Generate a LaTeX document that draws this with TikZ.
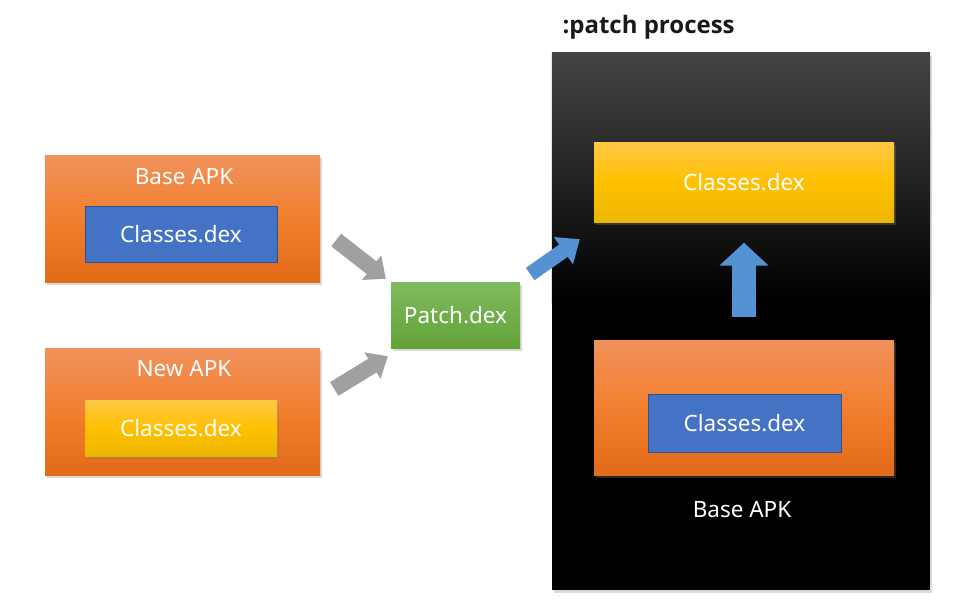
\documentclass[tikz,border=0pt]{standalone}
\usepackage{fontspec}
\setmainfont{Noto Sans}
\newfontfamily\headfont{Open Sans}
\usetikzlibrary{arrows.meta,calc,shadows}
\definecolor{orangetop}{RGB}{241,146,92}
\definecolor{orangemid}{RGB}{242,127,46}
\definecolor{orangebot}{RGB}{226,106,24}
\definecolor{dexblue}{RGB}{68,114,196}
\definecolor{dexborder}{RGB}{47,82,143}
\definecolor{yellowtop}{RGB}{255,200,70}
\definecolor{yellowmid}{RGB}{255,192,0}
\definecolor{yellowbot}{RGB}{235,183,0}
\definecolor{greentop}{RGB}{128,186,94}
\definecolor{greenbot}{RGB}{98,163,56}
\definecolor{arrowgray}{RGB}{160,160,160}
\definecolor{arrowblue}{RGB}{84,146,212}
\definecolor{paneltop}{RGB}{68,68,68}
\tikzstyle{txt}=[text=white, font=\fontsize{22.5}{26}\selectfont]
\tikzstyle{soft shadow}=[drop shadow={opacity=0.3, shadow xshift=2pt, shadow yshift=-2.5pt}]
\tikzstyle{apk box}=[rectangle, minimum width=275pt, minimum height=127pt, inner sep=0pt,
  top color=orangetop, bottom color=orangebot, middle color=orangemid, soft shadow]
\tikzstyle{blue dex}=[rectangle, txt, draw=dexborder, line width=0.8pt, fill=dexblue,
  minimum width=192pt, minimum height=56pt, inner sep=0pt]
\tikzstyle{yellow dex}=[rectangle, txt, minimum width=192pt, minimum height=56pt, inner sep=0pt,
  top color=yellowtop, bottom color=yellowbot, middle color=yellowmid, soft shadow]
\tikzstyle{patch box}=[rectangle, txt, minimum width=129pt, minimum height=66pt, inner sep=0pt,
  top color=greentop, bottom color=greenbot, soft shadow]
\tikzstyle{gray arrow}=[draw=arrowgray, line width=16pt, -{Triangle[width=30pt,length=18pt]}]
\tikzstyle{blue arrow}=[draw=arrowblue, line width=15pt, -{Triangle[width=32pt,length=20pt]}]
\tikzstyle{up arrow}=[draw=arrowblue, line width=24pt, -{Triangle[width=48pt,length=23pt]}]

\begin{document}
\begin{tikzpicture}[x=1pt, y=-1pt]
    \useasboundingbox (0,0) rectangle (954,611);
    % Left side: the two apks
    \node[apk box] (baseapk) at (182.5,218.5) {};
    \node[txt] (basetitle) at (184,177) {Base APK};
    \node[blue dex] (basedex) at (181,234) {Classes.dex};
    \node[apk box] (newapk) at (182.5,411.5) {};
    \node[txt] (newtitle) at (184,369) {New APK};
    \node[yellow dex] (newdex) at (181,428) {Classes.dex};
    % The patch
    \node[patch box] (patch) at (455.5,315) {Patch.dex};
    % Patch process panel
    \node[rectangle, fill=black, minimum width=378pt, minimum height=537pt, inner sep=0pt,
      soft shadow] (panel) at (741,321.5) {};
    \fill[top color=paneltop, bottom color=black]
      (panel.north west) rectangle ($(panel.north east)+(0,250)$);
    \node[anchor=west, text=black!90, font=\headfont\bfseries\fontsize{24}{30}\selectfont]
      (paneltitle) at (559,27) {:patch process};
    \node[yellow dex, minimum width=300pt, minimum height=80pt] (procdex) at (744,182.5) {Classes.dex};
    \node[apk box, minimum width=300pt, minimum height=135pt, drop shadow={opacity=0}] (procapk) at (744,407.5) {};
    \node[blue dex, minimum width=193pt, minimum height=58pt] (procbasedex) at (744.5,423) {Classes.dex};
    \node[txt] (proctitle) at (742,510) {Base APK};
    % Arrows
    \path[gray arrow] ($(baseapk.east)+(16,21.5)$) -- ($(patch.north west)+(-5,-3)$);
    \path[gray arrow] ($(newapk.east)+(14,-22.5)$) -- ($(patch.south west)+(-3,8)$);
    \path[blue arrow] ($(patch.east)+(10,-41)$) -- ($(procdex.south west)+(-14,16.5)$);
    \path[up arrow] ($(procapk.north)+(0,-23)$) -- ($(procdex.south)+(0,20)$);
\end{tikzpicture}
\end{document}
